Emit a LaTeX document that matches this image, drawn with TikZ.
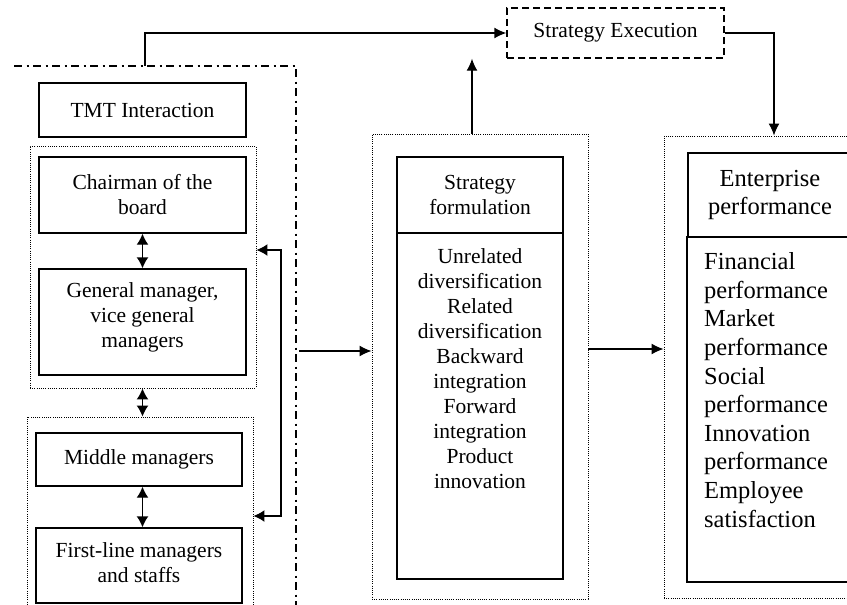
\documentclass[tikz,border=0pt]{standalone}
\usepackage{fontspec}
\setmainfont{Liberation Serif}
\usetikzlibrary{arrows.meta}
\begin{document}
\begin{tikzpicture}[x=1pt,y=-1pt,
  txt/.style={font=\fontsize{21.5}{25}\selectfont},
  bigtxt/.style={font=\fontsize{24.5}{28.6}\selectfont},
  solidbox/.style={draw,line width=1.4pt,inner sep=0pt,align=center,txt},
  dotbox/.style={draw,line width=0.9pt,dash pattern=on 1pt off 1.2pt,inner sep=0pt},
  exebox/.style={draw,line width=1.4pt,dash pattern=on 7pt off 4pt,inner sep=0pt,txt},
  arr/.style={line width=1.4pt,-{Latex[length=12pt,width=11pt]}},
  darr/.style={line width=1.4pt,{Latex[length=11pt,width=12pt]}-{Latex[length=11pt,width=12pt]}},
  frameline/.style={line width=1.4pt,dash pattern=on 8pt off 4.5pt on 2pt off 4.5pt},
]
\useasboundingbox (0,0) rectangle (847,605);
\clip (0,0) rectangle (847,605);

% management hierarchy
\node[solidbox,minimum width=207pt,minimum height=54pt] (tmt) at (142.5,110) {TMT Interaction};
\node[dotbox,minimum width=226pt,minimum height=242pt] (g1) at (143,267) {};
\node[dotbox,minimum width=226pt,minimum height=206pt] (g2) at (140,520) {};
\node[solidbox,minimum width=207pt,minimum height=76pt] (chair) at (142.5,195) {Chairman of the\\board};
\node[solidbox,minimum width=207pt,minimum height=106pt] (gm) at (142.5,322) {};
\node[txt,align=center,inner sep=0pt] (gmt) at (142.5,317) {General manager,\\vice general\\managers};
\node[solidbox,minimum width=206pt,minimum height=53pt] (mid) at (139,459.5) {Middle managers};
\node[solidbox,minimum width=206pt,minimum height=75pt] (first) at (139,565.5) {};
\node[txt,align=center,inner sep=0pt] (firstt) at (139,562.5) {First-line managers\\and staffs};

% strategy formulation
\node[dotbox,minimum width=216pt,minimum height=465pt] (sfo) at (480,366.5) {};
\node[solidbox,minimum width=166pt,minimum height=76pt] (sfh) at (480,195) {Strategy\\formulation};
\node[solidbox,minimum width=166pt,minimum height=346pt] (sfc) at (480,406) {};
\node[txt,align=center,inner sep=0pt] (sft) at (480,368.5) {Unrelated\\diversification\\Related\\diversification\\Backward\\integration\\Forward\\integration\\Product\\innovation};

% strategy execution
\node[exebox,minimum width=217pt,minimum height=50pt] (se) at (615.5,33) {Strategy Execution};

% enterprise performance
\node[dotbox,minimum width=206pt,minimum height=462pt] (epo) at (767,367) {};
\node[solidbox,bigtxt,minimum width=164pt,minimum height=84pt] (eph) at (770,195) {Enterprise\\performance};
\node[solidbox,minimum width=165pt,minimum height=345pt] (epc) at (769.5,409.5) {};
\node[bigtxt,align=left,inner sep=0pt,anchor=west] (ept) at (704,390) {Financial\\performance\\Market\\performance\\Social\\performance\\Innovation\\performance\\Employee\\satisfaction};

% dash-dot frame around the hierarchy
\coordinate (fl) at (14,66);
\coordinate (fc) at (296,66);
\coordinate (fb) at (296,612);
\draw[frameline] (fl) -- (fc) -- (fb);

% connectors
\coordinate (tk) at (145,66);
\coordinate (tkup) at (145,33);
\draw[arr] (tk) -- (tkup) -- (se.west);

\coordinate (upx) at (472,0);
\draw[arr] (sfo.north -| upx) -- (se.south -| upx);

\coordinate (dn) at (774,33);
\draw[arr] (se.east) -- (dn) -- (epo.north -| dn);

\coordinate (fout) at (299,351);
\draw[arr] (fout) -- (sfo.west |- fout);

\coordinate (mid2) at (588,349);
\draw[arr] (sfo.east |- mid2) -- (epo.west |- mid2);

\coordinate (ax) at (142.5,0);
\draw[darr] (chair.south -| ax) -- (gm.north -| ax);
\draw[darr] (g1.south -| ax) -- (g2.north -| ax);
\draw[darr] (mid.south -| ax) -- (first.north -| ax);

\coordinate (brtop) at (281,250);
\coordinate (brbot) at (281,516);
\draw[darr] (g1.east |- brtop) -- (brtop) -- (brbot) -- (g2.east |- brbot);
\end{tikzpicture}
\end{document}
